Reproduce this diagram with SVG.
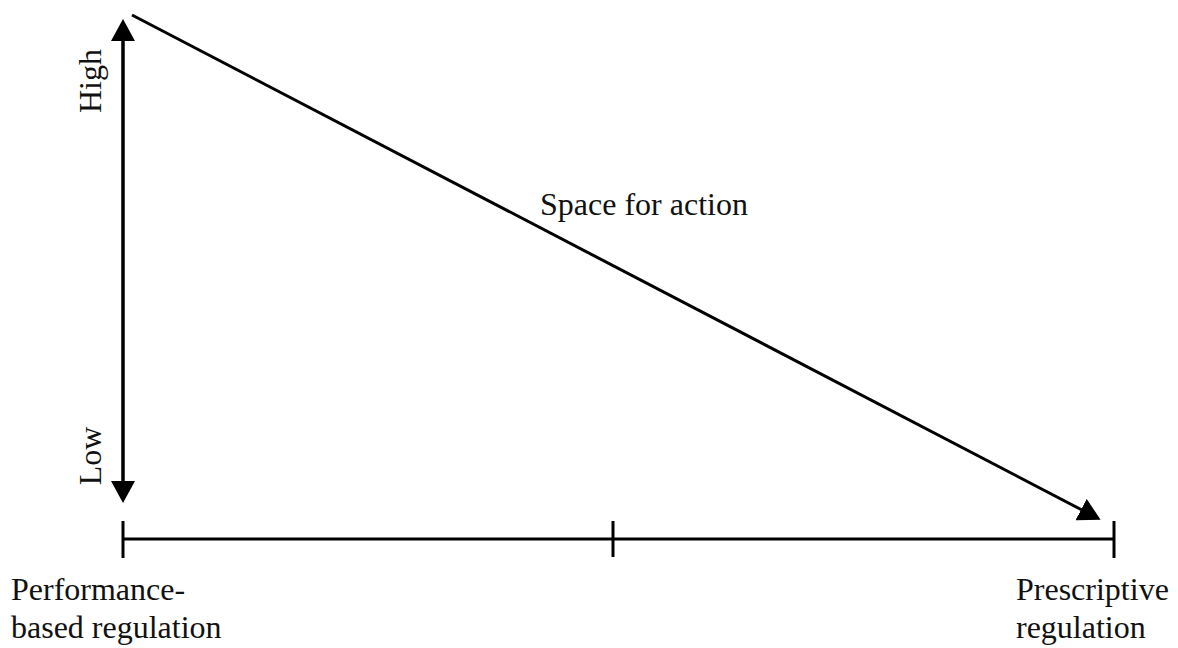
<svg xmlns="http://www.w3.org/2000/svg" width="1178" height="648" viewBox="0 0 1178 648">
<style>
.ln{stroke:#000;stroke-width:3;fill:none}
.t{font-family:"Liberation Serif","Times New Roman",serif;font-size:32px;fill:#111}
</style>
<defs>
<marker id="ah" markerUnits="userSpaceOnUse" viewBox="0 0 24 24" markerWidth="24" markerHeight="24" refX="1" refY="12" orient="auto">
<path d="M0,0 L22,12 L0,24 Z" fill="#000"/>
</marker>
</defs>
<rect width="1178" height="648" fill="#fff"/>
<g id="connectors">
<line class="ln" x1="123" y1="40" x2="123" y2="482" marker-end="url(#ah)"/>
<line class="ln" x1="123" y1="482" x2="123" y2="40" marker-end="url(#ah)"/>
<line class="ln" x1="132" y1="15" x2="1082" y2="510" marker-end="url(#ah)"/>
<line class="ln" x1="123" y1="539" x2="1114" y2="539"/>
<line class="ln" x1="123" y1="521" x2="123" y2="558"/>
<line class="ln" x1="613" y1="521" x2="613" y2="557"/>
<line class="ln" x1="1114" y1="521" x2="1114" y2="558"/>
</g>
<g id="high"><text class="t" text-anchor="middle" transform="translate(101,81) rotate(-90)">High</text></g>
<g id="low"><text class="t" text-anchor="middle" transform="translate(101,456) rotate(-90)">Low</text></g>
<g id="space"><text class="t" x="540" y="215">Space for action</text></g>
<g id="performance"><text class="t" x="11" y="600">Performance-</text><text class="t" x="11" y="638">based regulation</text></g>
<g id="prescriptive"><text class="t" x="1016" y="600">Prescriptive</text><text class="t" x="1016" y="638">regulation</text></g>
</svg>
